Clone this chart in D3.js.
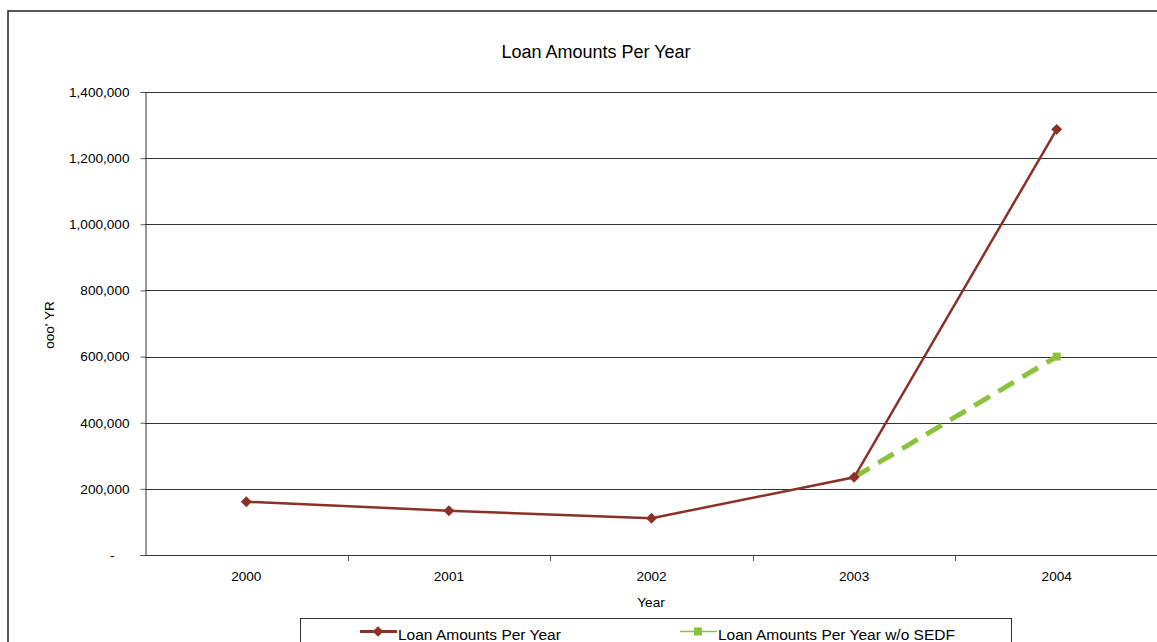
<!DOCTYPE html>
<html><head><meta charset="utf-8">
<script src="https://cdn.jsdelivr.net/npm/d3@7/dist/d3.min.js"></script>
<style>
html,body{margin:0;padding:0;background:#fff;}
svg{display:block;font-family:"Liberation Sans",Arial,sans-serif;}
</style></head>
<body>
<svg id="chart" width="1157" height="642"></svg>
<script>
const years = ["2000","2001","2002","2003","2004"];
const loanAmounts = [161000, 134000, 111000, 235000, 1287000];
const loanAmountsNoSEDF = [null, null, null, 235000, 600000];
const yTicks = [0, 200000, 400000, 600000, 800000, 1000000, 1200000, 1400000];
const seriesNames = ["Loan Amounts Per Year", "Loan Amounts Per Year w/o SEDF"];

const svg = d3.select("#chart");
const W = 1157, H = 642;
const m = {left:145, top:92, right:1158, bottom:555};
const FF = "Liberation Sans, Arial, sans-serif";

// outer border
svg.append("rect").attr("x",8).attr("y",11).attr("width",1160).attr("height",700)
  .attr("fill","none").attr("stroke","#222").attr("stroke-width",1.5);

const x = d3.scaleBand().domain(years).range([m.left, m.right]).padding(0);
const y = d3.scaleLinear().domain([0,1400000]).range([m.bottom, m.top]);

// gridlines
svg.append("g").selectAll("line").data(yTicks.filter(d=>d>0)).join("line")
  .attr("x1",m.left).attr("x2",W).attr("y1",d=>Math.round(y(d))+0.5).attr("y2",d=>Math.round(y(d))+0.5)
  .attr("stroke","#333").attr("stroke-width",1);

// y axis
const fmt = d => d===0 ? "-" : d3.format(",")(d);
const yAxis = svg.append("g").attr("transform",`translate(${m.left+0.5},0)`)
  .call(d3.axisLeft(y).tickValues(yTicks).tickFormat(fmt).tickSize(5).tickPadding(11));
yAxis.select(".domain").attr("stroke","#333");
yAxis.selectAll(".tick line").attr("stroke","#555");
yAxis.selectAll(".tick text").attr("font-size","13.6px").attr("fill","#000").attr("font-family",FF);
yAxis.selectAll(".tick").filter(d=>d===0).select("text").attr("dx","-15");

// x axis
const xAxis = svg.append("g").attr("transform",`translate(0,${m.bottom+0.5})`)
  .call(d3.axisBottom(x).tickSize(0).tickPadding(16));
xAxis.select(".domain").remove();
svg.append("line").attr("x1",m.left).attr("x2",W).attr("y1",m.bottom+0.5).attr("y2",m.bottom+0.5).attr("stroke","#333");
xAxis.selectAll(".tick text").attr("font-size","13.6px").attr("fill","#000").attr("font-family",FF);
// category boundary ticks
svg.append("g").selectAll("line").data(years.slice(1)).join("line")
  .attr("x1",d=>Math.round(x(d))+0.5).attr("x2",d=>Math.round(x(d))+0.5)
  .attr("y1",m.bottom).attr("y2",m.bottom+6).attr("stroke","#555");

const cx = d => x(d) + x.bandwidth()/2;

// green dashed series
const g2 = years.map((yr,i)=>({yr, v:loanAmountsNoSEDF[i]})).filter(d=>d.v!=null);
svg.append("path").datum(g2)
  .attr("d", d3.line().x(d=>cx(d.yr)).y(d=>y(d.v)))
  .attr("fill","none").attr("stroke","#8dc23f").attr("stroke-width",5).attr("stroke-dasharray","18,10");
svg.append("g").selectAll("rect").data(g2.slice(1)).join("rect")
  .attr("x",d=>cx(d.yr)-4).attr("y",d=>y(d.v)-4).attr("width",8).attr("height",8).attr("fill","#8dc23f");

// red series
const r = years.map((yr,i)=>({yr, v:loanAmounts[i]}));
svg.append("path").datum(r)
  .attr("d", d3.line().x(d=>cx(d.yr)).y(d=>y(d.v)))
  .attr("fill","none").attr("stroke","#8b3126").attr("stroke-width",2.5);
svg.append("g").selectAll("path").data(r).join("path")
  .attr("transform",d=>`translate(${cx(d.yr)},${y(d.v)}) rotate(45)`)
  .attr("d", d3.symbol().type(d3.symbolSquare).size(60)())
  .attr("fill","#8b3126");

// titles
svg.append("text").attr("x",596).attr("y",58).attr("text-anchor","middle")
  .attr("font-size","18px").text("Loan Amounts Per Year");
svg.append("text").attr("x",651).attr("y",607).attr("text-anchor","middle")
  .attr("font-size","13.6px").text("Year");
svg.append("text").attr("transform","translate(54,325) rotate(-90)").attr("text-anchor","middle")
  .attr("font-size","13.6px").text("ooo' YR");

// legend
svg.append("rect").attr("x",300.5).attr("y",618.5).attr("width",711).attr("height",40)
  .attr("fill","#fff").attr("stroke","#333");
const leg = [{x:360, c:"#8b3126", t:seriesNames[0], sym:"d"},{x:680, c:"#8dc23f", t:seriesNames[1], sym:"s"}];
leg.forEach(l=>{
  svg.append("line").attr("x1",l.x).attr("x2",l.x+37).attr("y1",631.5).attr("y2",631.5)
    .attr("stroke",l.c).attr("stroke-width",l.sym==="d"?3:1.5);
  if(l.sym==="d"){
    svg.append("path").attr("transform",`translate(${l.x+18},631.5) rotate(45)`)
      .attr("d",d3.symbol().type(d3.symbolSquare).size(55)()).attr("fill",l.c);
  } else {
    svg.append("rect").attr("x",l.x+14).attr("y",627.5).attr("width",8).attr("height",8).attr("fill",l.c);
  }
  svg.append("text").attr("x",l.x+38).attr("y",640).attr("font-size","15.5px").text(l.t);
});
</script>
</body></html>
